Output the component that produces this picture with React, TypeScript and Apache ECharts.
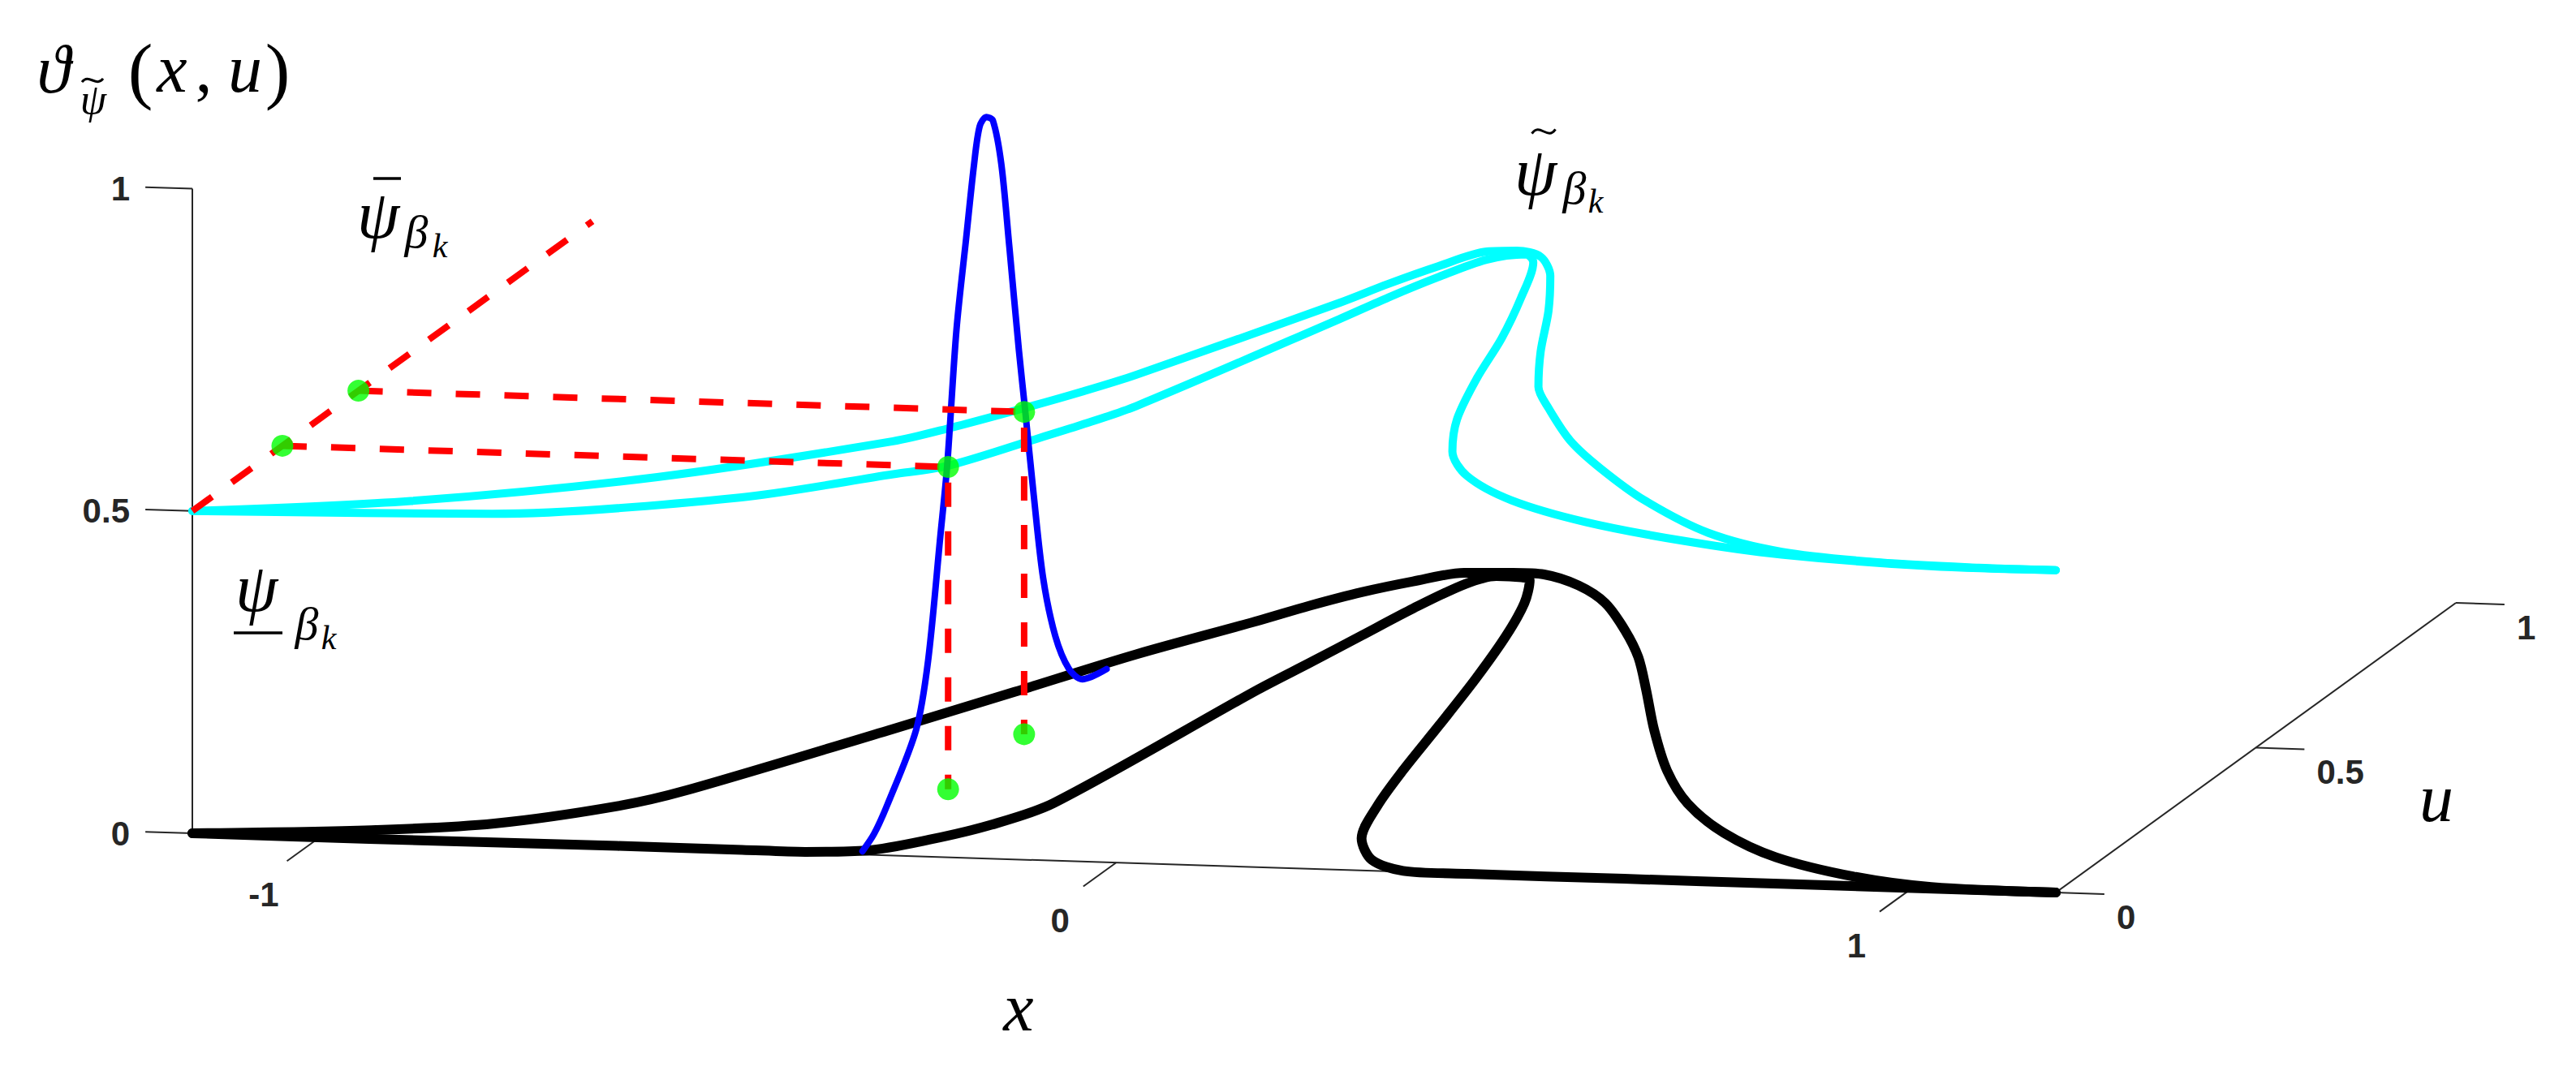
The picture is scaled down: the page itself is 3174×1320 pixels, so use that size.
import React, { useEffect, useRef } from "react";
import * as echarts from "echarts";

const W = 3174;
const H = 1320;

// ---------- axis ranges and ticks ----------
const xMin = -1.16;
const xMax = 1.18;
const uMax = 1;
const zMax = 1;
const xTicks = [-1, 0, 1];
const xTickLabels = ["-1", "0", "1"];
const uTicks = [0, 0.5, 1];
const uTickLabels = ["0", "0.5", "1"];
const zTicks = [0, 0.5, 1];
const zTickLabels = ["0", "0.5", "1"];

// ---------- black curves in the (x, u) plane, z = 0 ----------
const psiUpper = [
  [-1.16, 0], [-0.95, 0.029], [-0.813, 0.064], [-0.693, 0.135], [-0.637, 0.194],
  [-0.491, 0.418], [-0.406, 0.554], [-0.322, 0.691], [-0.231, 0.815], [-0.194, 0.87],
  [-0.154, 0.92], [-0.11, 0.961], [-0.063, 0.995], [-0.005, 1.0], [0.036, 0.998],
  [0.096, 0.965], [0.157, 0.91], [0.226, 0.822], [0.287, 0.734], [0.35, 0.628],
  [0.427, 0.495], [0.51, 0.362], [0.589, 0.256], [0.682, 0.162], [0.785, 0.087],
  [0.909, 0.032], [1.021, 0.005], [1.18, 0],
];
const psiLower = [
  [-1.16, 0], [-0.938, 0], [-0.628, 0.003], [-0.471, 0.003], [-0.392, 0.003],
  [-0.32, 0.014], [-0.263, 0.056], [-0.213, 0.112], [-0.174, 0.19], [-0.117, 0.587],
  [-0.099, 0.682], [-0.082, 0.777], [-0.065, 0.872], [-0.043, 0.958], [-0.019, 0.988],
  [0.014, 0.986], [0.028, 0.978], [0.06, 0.901], [0.092, 0.792], [0.127, 0.646],
  [0.16, 0.49], [0.192, 0.334], [0.22, 0.215], [0.255, 0.106], [0.303, 0.036],
  [0.359, 0.003], [0.442, 0], [0.638, 0], [0.834, 0], [1.18, 0],
];

// ---------- cyan level set (x, u) at z = level ----------
const level = 0.5;
const levelUpper = [
  [-1.16, 0], [-0.914, 0.056], [-0.657, 0.161], [-0.433, 0.304], [-0.389, 0.351],
  [-0.33, 0.428], [-0.288, 0.488], [-0.251, 0.549], [-0.126, 0.809], [-0.099, 0.876],
  [-0.068, 0.94], [-0.034, 0.994], [0.001, 1.0], [0.04, 0.982], [0.083, 0.92],
  [0.139, 0.804], [0.197, 0.669], [0.253, 0.552], [0.301, 0.482], [0.381, 0.377],
  [0.462, 0.29], [0.569, 0.188], [0.7, 0.087], [0.82, 0.032], [0.956, 0.007],
  [1.083, 0], [1.18, 0],
];
const levelLower = [
  [-1.16, 0], [-0.794, 0.022], [-0.524, 0.102], [-0.378, 0.195], [-0.327, 0.228],
  [-0.27, 0.318], [-0.233, 0.379], [-0.199, 0.446], [-0.099, 0.755], [-0.076, 0.832],
  [-0.05, 0.904], [-0.021, 0.967], [0.018, 0.989], [0.04, 0.963], [0.084, 0.845],
  [0.128, 0.709], [0.165, 0.573], [0.209, 0.436], [0.257, 0.329], [0.315, 0.25],
  [0.409, 0.174], [0.534, 0.11], [0.683, 0.058], [0.824, 0.023], [1.022, 0], [1.18, 0],
];

// ---------- blue slice of theta along u at fixed x ----------
const sliceX = -0.324;
const sliceU = [
  0.011, 0.04, 0.073, 0.145, 0.175, 0.2055, 0.2225, 0.246, 0.27, 0.29, 0.304, 0.3205,
  0.337, 0.358, 0.378, 0.402, 0.417, 0.439, 0.4625, 0.493, 0.527, 0.56, 0.621,
];
const sliceZ = [
  0, 0.014, 0.044, 0.128, 0.222, 0.401, 0.502, 0.704, 0.834, 0.941, 0.993, 1.0,
  0.987, 0.91, 0.773, 0.601, 0.505, 0.36, 0.221, 0.117, 0.051, 0.02, 0.0085,
];

// ---------- level crossings on the slice ----------
const crossU = [0.225, 0.415];

// ---------- view (orthographic projection of the 3-D box) ----------
const VIEW = { ox: 237, oy: 1027, ex: [981.2, 31.2], eu: [493, -357], ez: [0, -794.5] };
function P(x: number, u: number, z: number): [number, number] {
  const d = x - xMin;
  return [
    VIEW.ox + d * VIEW.ex[0] + u * VIEW.eu[0] + z * VIEW.ez[0],
    VIEW.oy + d * VIEW.ex[1] + u * VIEW.eu[1] + z * VIEW.ez[1],
  ];
}

const AXIS = "#262626";
const SERIF = '"Liberation Serif", "DejaVu Serif", serif';
const SANS = '"Liberation Sans", Arial, sans-serif';
const SMOOTH = 0.3;

function lineSeries(pts: number[][], color: string, width: number, opts: any = {}) {
  return {
    type: "line",
    data: pts,
    showSymbol: false,
    symbol: "none",
    silent: true,
    clip: false,
    smooth: opts.smooth ?? 0,
    z: opts.z ?? 2,
    lineStyle: {
      color,
      width,
      type: opts.type ?? "solid",
      cap: opts.cap ?? "round",
      join: "round",
    },
  };
}

function mathText(text: string, cx: number, baseline: number, size: number, italic = true) {
  return {
    type: "text",
    x: cx,
    y: baseline - 0.34 * size,
    silent: true,
    style: {
      text,
      fontSize: size,
      fontFamily: SERIF,
      fontStyle: italic ? "italic" : "normal",
      fill: "#000",
      align: "center",
      verticalAlign: "middle",
      textAlign: "center",
      textVerticalAlign: "middle",
    },
  };
}

function tickText(text: string, x: number, y: number, align: string) {
  return {
    type: "text",
    x,
    y,
    silent: true,
    style: {
      text,
      fontSize: 42,
      fontWeight: "bold",
      fontFamily: SANS,
      fill: AXIS,
      align,
      verticalAlign: "middle",
      textAlign: align,
      textVerticalAlign: "middle",
    },
  };
}

function hLine(x1: number, x2: number, y: number) {
  return {
    type: "line",
    silent: true,
    shape: { x1, y1: y, x2, y2: y },
    style: { stroke: "#000", lineWidth: 3.5 },
  };
}

function tilde(cx: number, cy: number, w: number, h: number) {
  return {
    type: "bezierCurve",
    silent: true,
    shape: {
      x1: cx - w / 2, y1: cy + h * 0.3,
      cpx1: cx - w / 6, cpy1: cy - h * 1.3,
      cpx2: cx + w / 6, cpy2: cy + h * 1.3,
      x2: cx + w / 2, y2: cy - h * 0.3,
    },
    style: { stroke: "#000", lineWidth: 3, fill: null },
  };
}

function buildOption() {
  const series: any[] = [];
  // axes
  series.push(lineSeries([P(xMin, 0, 0), P(xMin, 0, zMax)], AXIS, 2, { cap: "butt", z: 1 }));
  series.push(lineSeries([P(xMin, 0, 0), P(xMax, 0, 0)], AXIS, 2, { cap: "butt", z: 1 }));
  series.push(lineSeries([P(xMax, 0, 0), P(xMax, uMax, 0)], AXIS, 2, { cap: "butt", z: 1 }));
  zTicks.forEach((t) => series.push(lineSeries([P(xMin, 0, t), P(xMin - 0.059, 0, t)], AXIS, 2, { cap: "butt", z: 1 })));
  xTicks.forEach((t) => series.push(lineSeries([P(t, 0, 0), P(t, -0.082, 0)], AXIS, 2, { cap: "butt", z: 1 })));
  uTicks.forEach((t) => series.push(lineSeries([P(xMax, t, 0), P(xMax + 0.061, t, 0)], AXIS, 2, { cap: "butt", z: 1 })));

  // black curves
  series.push(lineSeries(psiUpper.map(([x, u]) => P(x, u, 0)), "#000000", 12, { smooth: SMOOTH }));
  series.push(lineSeries(psiLower.map(([x, u]) => P(x, u, 0)), "#000000", 12, { smooth: SMOOTH }));
  // cyan level set
  series.push(lineSeries(levelUpper.map(([x, u]) => P(x, u, level)), "#00FFFF", 10, { smooth: SMOOTH, z: 3 }));
  series.push(lineSeries(levelLower.map(([x, u]) => P(x, u, level)), "#00FFFF", 10, { smooth: SMOOTH, z: 3 }));
  // blue slice
  series.push(lineSeries(sliceU.map((u, i) => P(sliceX, u, sliceZ[i])), "#0000FF", 8, { smooth: SMOOTH, z: 4 }));
  // red dashed
  series.push(lineSeries([P(xMin, 0, level), P(xMin, uMax, level)], "#FF0000", 8, { type: [30, 30], cap: "butt", z: 5 }));
  crossU.forEach((u) =>
    series.push(
      lineSeries([P(xMin, u, level), P(sliceX, u, level), P(sliceX, u, 0)], "#FF0000", 8, { type: [30, 30], cap: "butt", z: 5 })
    )
  );
  // green points
  series.push({
    type: "scatter",
    silent: true,
    z: 6,
    symbol: "circle",
    symbolSize: 27,
    itemStyle: { color: "#00FF00" },
    data: crossU.flatMap((u) => [P(xMin, u, level), P(sliceX, u, level), P(sliceX, u, 0)]),
  });

  const elements: any[] = [];
  // tick labels
  zTicks.forEach((t, i) => {
    const [px, py] = P(xMin, 0, t);
    elements.push(tickText(zTickLabels[i], px - 77, py, "right"));
  });
  xTicks.forEach((t, i) => {
    const [px, py] = P(t, 0, 0);
    elements.push(tickText(xTickLabels[i], px - 69, py + 71, "center"));
  });
  uTicks.forEach((t, i) => {
    const [px, py] = P(xMax, t, 0);
    elements.push(tickText(uTickLabels[i], px + 75, py + 30, "left"));
  });

  // z-axis title: theta_{psi~}(x, u)
  elements.push(mathText("\u03D1", 66, 114, 84));
  elements.push(mathText("\u03C8", 115, 140, 52));
  elements.push(tilde(114, 99, 26, 7));
  elements.push(mathText("(", 173, 117, 92, false));
  elements.push(mathText("x", 212, 113, 84));
  elements.push(mathText(",", 251, 113, 84, false));
  elements.push(mathText("u", 302, 113, 84));
  elements.push(mathText(")", 342, 117, 92, false));

  // axis titles
  elements.push(mathText("x", 1255, 1270, 84));
  elements.push(mathText("u", 3002, 1012, 84));

  // psi-bar label
  elements.push(mathText("\u03C8", 466, 293, 84));
  elements.push(hLine(460, 494, 220));
  elements.push(mathText("\u03B2", 513, 305, 58));
  elements.push(mathText("k", 542, 317, 42));

  // psi-tilde label
  elements.push(mathText("\u03C8", 1892, 240, 84));
  elements.push(tilde(1902, 162, 29, 9));
  elements.push(mathText("\u03B2", 1940, 251, 58));
  elements.push(mathText("k", 1966, 262, 42));

  // psi-underline label
  elements.push(mathText("\u03C8", 316, 753, 84));
  elements.push(hLine(288, 348, 780));
  elements.push(mathText("\u03B2", 378, 788, 58));
  elements.push(mathText("k", 405, 800, 42));

  return {
    animation: false,
    backgroundColor: "#ffffff",
    grid: { left: 0, right: 0, top: 0, bottom: 0, containLabel: false },
    xAxis: { type: "value", min: 0, max: W, show: false },
    yAxis: { type: "value", min: 0, max: H, inverse: true, show: false },
    series,
    graphic: { elements },
  };
}

export default function App() {
  const ref = useRef<HTMLDivElement>(null);
  useEffect(() => {
    if (!ref.current) return;
    const chart = echarts.init(ref.current, null, { renderer: "svg", width: W, height: H });
    chart.setOption(buildOption() as any);
    return () => chart.dispose();
  }, []);
  return (
    <div
      ref={ref}
      style={{ position: "absolute", left: 0, top: 0, width: W, height: H, background: "#fff" }}
    />
  );
}
